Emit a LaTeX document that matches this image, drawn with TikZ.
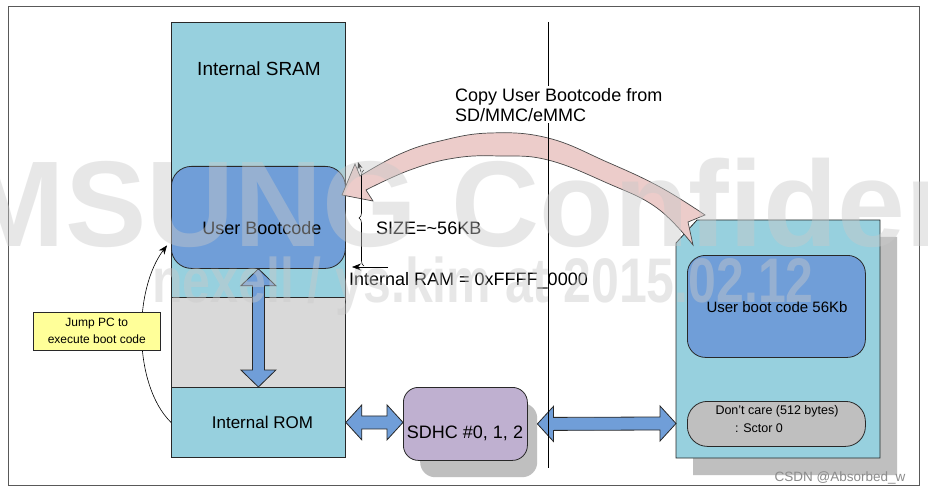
\documentclass[tikz,border=0pt]{standalone}
\usepackage{fontspec}
\setmainfont{Liberation Sans}
\usetikzlibrary{calc,arrows.meta,decorations.pathreplacing}
\definecolor{sramc}{RGB}{151,208,222}
\definecolor{midgray}{RGB}{217,217,217}
\definecolor{ubblue}{RGB}{112,158,216}
\definecolor{pinkc}{RGB}{236,204,202}
\definecolor{purplec}{RGB}{191,176,208}
\definecolor{shadowc}{RGB}{191,191,191}
\definecolor{yellowc}{RGB}{255,255,153}
\definecolor{wmc}{RGB}{201,201,201}
\definecolor{edgec}{RGB}{40,40,40}
\newcommand\myfs[1]{\fontsize{#1}{#1}\selectfont}
\newcommand\vdbl[2]{%
 \draw[barrow] (#1) -- ($(#1)+(17.5,17)$) -- ($(#1)+(6,17)$) -- ($(#2)+(6,-17)$) -- ($(#2)+(17.5,-17)$) -- (#2) -- ($(#2)+(-17.5,-17)$) -- ($(#2)+(-6,-17)$) -- ($(#1)+(-6,17)$) -- ($(#1)+(-17.5,17)$) -- cycle;}
\newcommand\hdbl[2]{%
 \draw[barrow] (#1) -- ($(#1)+(16,-17.5)$) -- ($(#1)+(16,-6.5)$) -- ($(#2)+(-16,-6.5)$) -- ($(#2)+(-16,-17.5)$) -- (#2) -- ($(#2)+(-16,17.5)$) -- ($(#2)+(-16,6.5)$) -- ($(#1)+(16,6.5)$) -- ($(#1)+(16,17.5)$) -- cycle;}
\begin{document}
\begin{tikzpicture}[x=1pt,y=-1pt,
  blk/.style={draw=edgec, line width=0.8pt, inner sep=0pt, anchor=north west},
  lbl/.style={inner sep=0pt, text=black},
  barrow/.style={draw=edgec, line width=0.8pt, fill=ubblue, line join=miter},
  thinline/.style={line width=0.6pt, draw=black},
  wm/.style={inner sep=0pt, text=wmc, text opacity=0.43},
]
\useasboundingbox (0,0) rectangle (928,494);
\clip (0,0) rectangle (928,494);
\fill[white] (0,0) rectangle (928,494);
\draw[line width=1pt, black!65] (8,7) rectangle (919,485);

% memory column
\node[blk, fill=sramc, minimum width=174pt, minimum height=275pt] (sram) at (171,22) {};
\node[blk, fill=midgray, minimum width=174pt, minimum height=90pt] (mid) at (171,297) {};
\node[blk, fill=sramc, minimum width=174pt, minimum height=70pt, font=\myfs{17}] (rom) at (171,387) {\hspace{8pt}Internal ROM};
\node[lbl, font=\myfs{19}] (sramlbl) at (259,69) {Internal SRAM};
\node[blk, fill=ubblue, rounded corners=20pt, minimum width=174pt, minimum height=102pt] (ub) at (171,166) {};
\node[lbl, font=\myfs{18}] (ublbl) at (262,228) {User Bootcode};
\vdbl{ub.south}{rom.north}

% jump PC
\draw[thinline, -{Stealth[length=9pt,width=7pt]}] (rom.west) .. controls (133,385) and (133,290) .. ($(ub.west)+(-4,28)$);
\node[draw=edgec, line width=0.6pt, fill=yellowc, minimum width=127pt, minimum height=38pt, anchor=north west, inner sep=0pt, align=center, font=\fontsize{12}{17}\selectfont] (jump) at (33,312) {Jump PC to\\execute boot code};

% SDHC
\node[fill=shadowc, rounded corners=15pt, minimum width=117pt, minimum height=74pt, anchor=north west, inner sep=0pt] (sdhcsh) at (420,403) {};
\node[blk, fill=purplec, rounded corners=15pt, minimum width=124pt, minimum height=73pt] (sdhc) at (403,387) {};
\node[lbl, font=\myfs{18}] (sdhclbl) at (465,433) {SDHC \#0, 1, 2};
\coordinate (sdhcw) at (sdhc.west |- rom.east);
\hdbl{rom.east}{sdhcw}

% SD card
\fill[shadowc] (714,237) -- (897,237) -- (897,475) -- (693,475) -- (693,260) -- cycle;
\draw[edgec, line width=0.8pt, fill=sramc] (697,220) -- (880,220) -- (880,458) -- (676,458) -- (676,243) -- cycle;
\coordinate (cardw) at (676,423.5);
\coordinate (a2l) at (sdhcsh.east |- sdhc.east);
\hdbl{a2l}{cardw}
\node[blk, fill=ubblue, rounded corners=18pt, minimum width=178pt, minimum height=102pt] (ubc) at (687,255) {};
\node[lbl, font=\myfs{15}] (ubclbl) at (777,307) {User boot code 56Kb};
\node[blk, fill=shadowc, rounded corners=20pt, minimum width=178pt, minimum height=45pt] (dc) at (687,401) {};
\node[lbl, font=\myfs{12.5}] (dc1) at (777,411) {Don't care (512 bytes)};
\node[lbl, font=\myfs{12.5}] (dc2) at (759,428) {: Sctor 0};

% big copy arrow
\filldraw[draw=edgec!85, line width=0.7pt, fill=pinkc] (342,195) -- (355,164) -- (360,176)
 -- plot[smooth, tension=0.7] coordinates {(360,176) (400,154) (440,141) (490,133) (548,138) (607,162) (660,187) (705,215)}
 -- (688,222) -- (693,245)
 -- plot[smooth, tension=0.7] coordinates {(693,245) (657,208) (607,183) (548,160) (500,156) (455,158) (410,170) (366,190)}
 -- (373,201) -- cycle;

% divider
\coordinate (dtop) at (548,22);
\coordinate (dbot) at (548,468);
\draw[line width=0.8pt, black] (dtop) -- (dbot);
\node[fill=white, inner sep=2pt, align=left, anchor=north west, font=\fontsize{18}{20}\selectfont] (copy) at (453,86) {Copy User Bootcode from\\SD/MMC/eMMC};

% size brace and RAM pointer
\draw[thinline, decorate, decoration={brace, amplitude=5pt}] (364,266) -- (364,170);
\draw[thinline, -{Stealth[length=7pt,width=5pt]}] (361,172) -- (358,162);
\coordinate (ramtail) at (388,267);
\coordinate (ramtip) at (352,267);
\draw[thinline, -{Stealth[length=9pt,width=7pt]}] (ramtail) -- (ramtip);
\node[lbl, anchor=west, font=\myfs{18}] (sizelbl) at (376,228) {SIZE=\textasciitilde 56KB};
\node[lbl, anchor=west, font=\myfs{18}] (ramlbl) at (349,281) {Internal RAM = 0xFFFF\_0000};

% watermarks
\node[wm, anchor=base west, font=\fontsize{122}{122}\selectfont\bfseries] (wm1) at (-206,247) {SAMSUNG Confidential};
\node[wm, anchor=base west, font=\fontsize{50}{50}\selectfont\bfseries] (wm2) at (152,302) {\scalebox{1}[1.26]{nexell / ys.kim at 2015.02.12}};
\node[lbl, text=black!45, font=\myfs{13.5}] (csdn) at (840,478) {CSDN @Absorbed\_w};
\end{tikzpicture}
\end{document}
